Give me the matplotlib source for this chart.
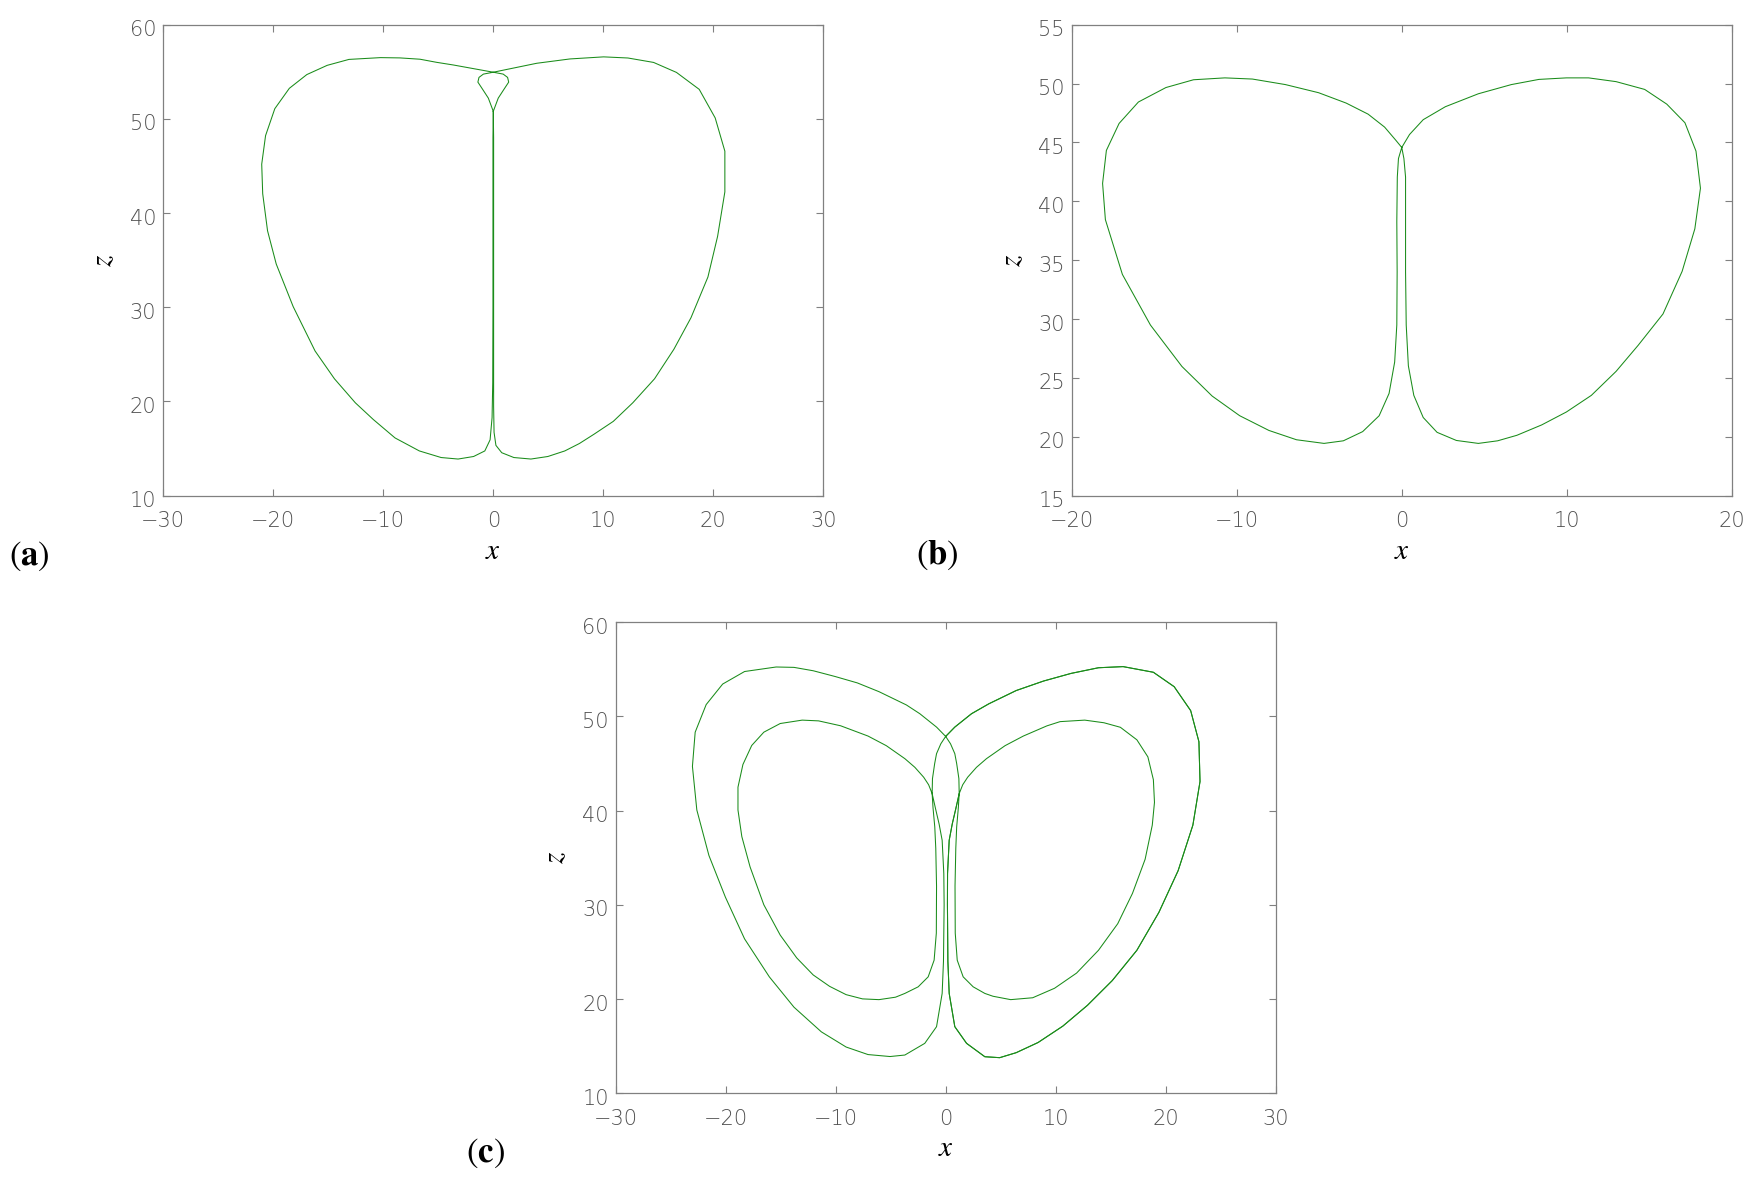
import matplotlib

matplotlib.use("Agg")
import matplotlib.pyplot as plt
from matplotlib.transforms import ScaledTranslation


# Panel (a): x-z projection.
A_X = [0.0, 0.45, 0.95, 1.4, 1.3, 0.9, 0.0,
       -3.64, -5.15, -6.66, -8.49, -10.25, -13.12, -15.1, -16.95, -18.54,
       -19.86, -20.7, -21.05, -20.96, -20.52, -19.73, -18.19, -16.2, -14.44,
       -12.54, -10.91, -8.93, -6.72, -4.74, -3.2, -1.79, -0.77, -0.29, -0.11,
       -0.05, -0.03, -0.03, -0.03, 0.0,
       -0.45, -0.95, -1.4, -1.3, -0.9, 0.0,
       3.95, 6.97, 10.03, 12.24, 14.57, 16.65, 18.72, 20.17, 21.05, 21.05,
       20.39, 19.51, 17.97, 16.42, 14.66, 12.68, 10.91, 9.15, 7.83, 6.5,
       4.96, 3.42, 1.87, 0.77, 0.24, 0.07, 0.03, 0.03, 0.03, 0.03, 0.0]
A_Z = [50.8, 52.2, 53.1, 53.9, 54.4, 54.75, 54.95,
       55.72, 56.0, 56.33, 56.47, 56.5, 56.31, 55.68, 54.7, 53.24,
       51.08, 48.22, 45.19, 42.05, 38.12, 34.59, 30.07, 25.36, 22.41,
       19.86, 18.09, 16.13, 14.75, 14.05, 13.89, 14.16, 14.75, 15.93, 18.29,
       22.0, 30.0, 40.0, 48.0, 50.8,
       52.2, 53.1, 53.9, 54.4, 54.75, 54.95,
       55.9, 56.36, 56.58, 56.46, 55.99, 54.93, 53.13, 50.1, 46.57, 42.25,
       37.53, 33.21, 28.89, 25.55, 22.41, 19.86, 17.89, 16.52, 15.54, 14.75,
       14.16, 13.89, 14.05, 14.56, 15.34, 16.72, 19.47, 30.0, 40.0, 48.0, 50.8]

# Panel (b)
B_X = [0.0, -0.37, -1.04, -2.04, -3.37, -5.04, -7.05, -9.05, -10.72, -12.62,
       -14.29, -15.96, -17.13, -17.9, -18.13, -17.96, -16.93, -15.23, -13.32,
       -11.49, -9.82, -8.05, -6.38, -4.71, -3.54, -2.37, -1.37, -0.77, -0.43,
       -0.3, -0.28, -0.3, -0.27, -0.2, 0.0,
       0.47, 1.3, 2.64, 4.64, 6.64, 8.31, 9.98, 11.32, 12.99, 14.72, 16.06,
       17.16, 17.83, 18.1, 17.76, 16.99, 15.83, 14.32, 12.99, 11.49, 9.98,
       8.48, 6.98, 5.81, 4.64, 3.31, 2.14, 1.3, 0.73, 0.4, 0.27, 0.23, 0.23,
       0.23, 0.13, 0.0]
B_Z = [44.57, 45.2, 46.3, 47.4, 48.34, 49.22, 49.91, 50.38, 50.48, 50.32,
       49.66, 48.43, 46.61, 44.32, 41.52, 38.44, 33.79, 29.49, 25.97,
       23.46, 21.79, 20.54, 19.75, 19.44, 19.66, 20.44, 21.79, 23.68, 26.35,
       29.5, 34.0, 38.29, 42.06, 43.63, 44.57,
       45.67, 46.93, 48.03, 49.13, 49.91, 50.35, 50.48, 50.48, 50.16, 49.5,
       48.25, 46.67, 44.26, 41.11, 37.66, 34.05, 30.43, 27.76, 25.56, 23.52,
       22.11, 21.01, 20.13, 19.66, 19.44, 19.69, 20.38, 21.64, 23.52, 26.03,
       29.49, 34.0, 38.29, 42.06, 43.63, 44.57]

# Panel (c): outer left, inner left, outer right, inner right
C_X = [0.0, -0.83, -2.35, -3.57, -6.06, -8.03, -10.05, -12.04, -13.79, -15.41,
       -18.28, -20.27, -21.77, -22.77, -23.02, -22.62, -21.52, -20.02, -18.28,
       -16.03, -13.79, -11.3, -9.05, -7.06, -5.06, -3.71, -1.9, -0.83, -0.32,
       -0.2, -0.14, -0.17, -0.32, -0.6, -0.9, -1.23, -1.55, -2.0, -2.8, -3.71,
       -5.4, -7.06, -9.55, -11.55, -13.04, -15.04, -16.53, -17.63, -18.43,
       -18.88, -18.88, -18.53, -17.78, -16.53, -15.04, -13.54, -12.04, -10.55,
       -9.05, -7.56, -6.06, -4.56, -3.71, -2.5, -1.59, -1.05, -0.85, -0.83,
       -0.9, -0.99, -1.15, -1.23, -1.2, -1.0, -0.83, -0.44, 0.0,
       0.83, 2.35, 3.92, 6.41, 8.9, 11.4, 13.89, 16.13, 18.88, 20.77, 22.27,
       23.02, 23.12, 22.47, 21.13, 19.38, 17.38, 15.14, 12.89, 10.65, 8.4,
       6.41, 4.91, 3.56, 1.9, 0.83, 0.32, 0.2, 0.16, 0.17, 0.32, 0.6, 0.9,
       1.23, 1.55, 2.0, 2.8, 3.71, 5.4,
       7.06, 9.2, 10.4, 12.64, 14.39, 15.88, 17.38, 18.38, 18.88, 18.98,
       18.78, 18.13, 16.98, 15.64, 13.89, 11.9, 9.9, 7.91, 5.91, 4.3, 3.56,
       2.5, 1.59, 1.05, 0.87, 0.85, 0.92, 1.0, 1.15, 1.23, 1.2, 1.0, 0.83,
       0.44, 0.0]
C_Z = [47.88, 48.87, 50.29, 51.22, 52.63, 53.56, 54.24, 54.85, 55.21, 55.25,
       54.77, 53.44, 51.26, 48.33, 44.7, 40.07, 35.24, 30.81, 26.39,
       22.36, 19.14, 16.52, 14.91, 14.11, 13.9, 14.06, 15.3, 17.07, 20.6,
       24.0, 30.0, 33.33, 36.86, 38.6, 40.1, 41.81, 42.75, 43.55, 44.6, 45.52,
       46.9, 47.92, 49.01, 49.53, 49.61, 49.25, 48.33, 46.92, 44.9,
       42.49, 40.07, 37.25, 34.03, 30.01, 26.79, 24.37, 22.56, 21.35,
       20.47, 20.02, 19.94, 20.2, 20.6, 21.3, 22.36, 24.13, 27.0, 32.0,
       36.0, 38.27, 40.3, 41.81, 43.4, 45.0, 46.05, 47.1, 47.88,
       48.87, 50.29, 51.34, 52.75, 53.76, 54.57, 55.17, 55.29, 54.69, 53.16,
       50.62, 47.32, 43.09, 38.46, 33.63, 29.2, 25.18, 21.96, 19.34, 17.13,
       15.39, 14.31, 13.78, 13.88, 15.3, 17.07, 20.6, 24.0, 30.0, 33.33,
       36.86, 38.6, 40.1, 41.81, 42.75, 43.55, 44.6, 45.52, 46.9,
       47.92, 49.0, 49.45, 49.61, 49.33, 48.85, 47.52, 45.71, 43.29, 40.88,
       38.46, 34.84, 31.22, 28.0, 25.18, 22.76, 21.15, 20.14, 19.94, 20.3,
       20.6, 21.3, 22.36, 24.13, 27.0, 32.0, 36.0, 38.27, 40.3, 41.81,
       43.4, 45.0, 46.05, 47.1, 47.88]

A_XTICKS = [-30, -20, -10, 0, 10, 20, 30]
A_ZTICKS = [10, 20, 30, 40, 50, 60]
B_XTICKS = [-20, -10, 0, 10, 20]
B_ZTICKS = [15, 20, 25, 30, 35, 40, 45, 50, 55]

LINE_COLOR = "#1a8c1a"
AXIS_COLOR = "#808080"
TEXT_COLOR = "#505050"


def style_axes(fig, ax, xticks, zticks):
    ax.set_xlim(xticks[0], xticks[-1])
    ax.set_ylim(zticks[0], zticks[-1])
    ax.set_xticks(xticks)
    ax.set_yticks(zticks)
    for sp in ax.spines.values():
        sp.set_color(AXIS_COLOR)
        sp.set_linewidth(0.9)
    ax.tick_params(direction="in", length=5, width=0.8, color=AXIS_COLOR,
                   top=True, right=True, labelsize=15, labelcolor=TEXT_COLOR)
    ax.tick_params(axis="y", pad=5)
    ax.tick_params(axis="x", pad=11)
    shift = ScaledTranslation(0, -3.5 / 100, fig.dpi_scale_trans)
    for lab in ax.get_yticklabels():
        lab.set_transform(lab.get_transform() + shift)
    for lab in ax.get_xticklabels() + ax.get_yticklabels():
        lab.set_fontweight("light")
    ax.text(0.5, -0.117, "$x$", transform=ax.transAxes, ha="center",
            va="center", fontsize=21)
    ax.text(-0.091, 0.5, "$z$", transform=ax.transAxes, ha="center",
            va="center", fontsize=21, rotation=90)


def main():
    plt.rcParams["mathtext.fontset"] = "stix"
    plt.rcParams["font.family"] = "DejaVu Sans"

    fig = plt.figure(figsize=(17.63, 11.85), dpi=100)

    ax_a = fig.add_axes([0.0926, 0.5817, 0.3744, 0.3975])
    ax_b = fig.add_axes([0.6079, 0.5817, 0.3744, 0.3975])
    ax_c = fig.add_axes([0.3492, 0.0774, 0.3744, 0.3975])

    ax_a.plot(A_X, A_Z, color=LINE_COLOR, lw=0.75)
    ax_b.plot(B_X, B_Z, color=LINE_COLOR, lw=0.75)
    ax_c.plot(C_X, C_Z, color=LINE_COLOR, lw=0.75)

    # the outer right loop of (c) is traced twice in the original, so it looks a bit darker
    zeros = [i for i, v in enumerate(C_X) if v == 0.0]
    start = zeros[1]
    stop = start + C_X[start:].index(1.23) + 1
    ax_c.plot(C_X[start:stop], C_Z[start:stop], color=LINE_COLOR, lw=0.75)

    style_axes(fig, ax_a, A_XTICKS, A_ZTICKS)
    style_axes(fig, ax_b, B_XTICKS, B_ZTICKS)
    style_axes(fig, ax_c, A_XTICKS, A_ZTICKS)

    fig.text(29.5 / 1763, 1 - 556 / 1185, r"$(\mathbf{a})$", ha="center",
             va="center", fontsize=25)
    fig.text(937 / 1763, 1 - 555 / 1185, r"$(\mathbf{b})$", ha="center",
             va="center", fontsize=25)
    fig.text(485 / 1763, 1 - 1153 / 1185, r"$(\mathbf{c})$", ha="center",
             va="center", fontsize=25)

    fig.savefig("out.png", dpi=100)


if __name__ == "__main__":
    main()
